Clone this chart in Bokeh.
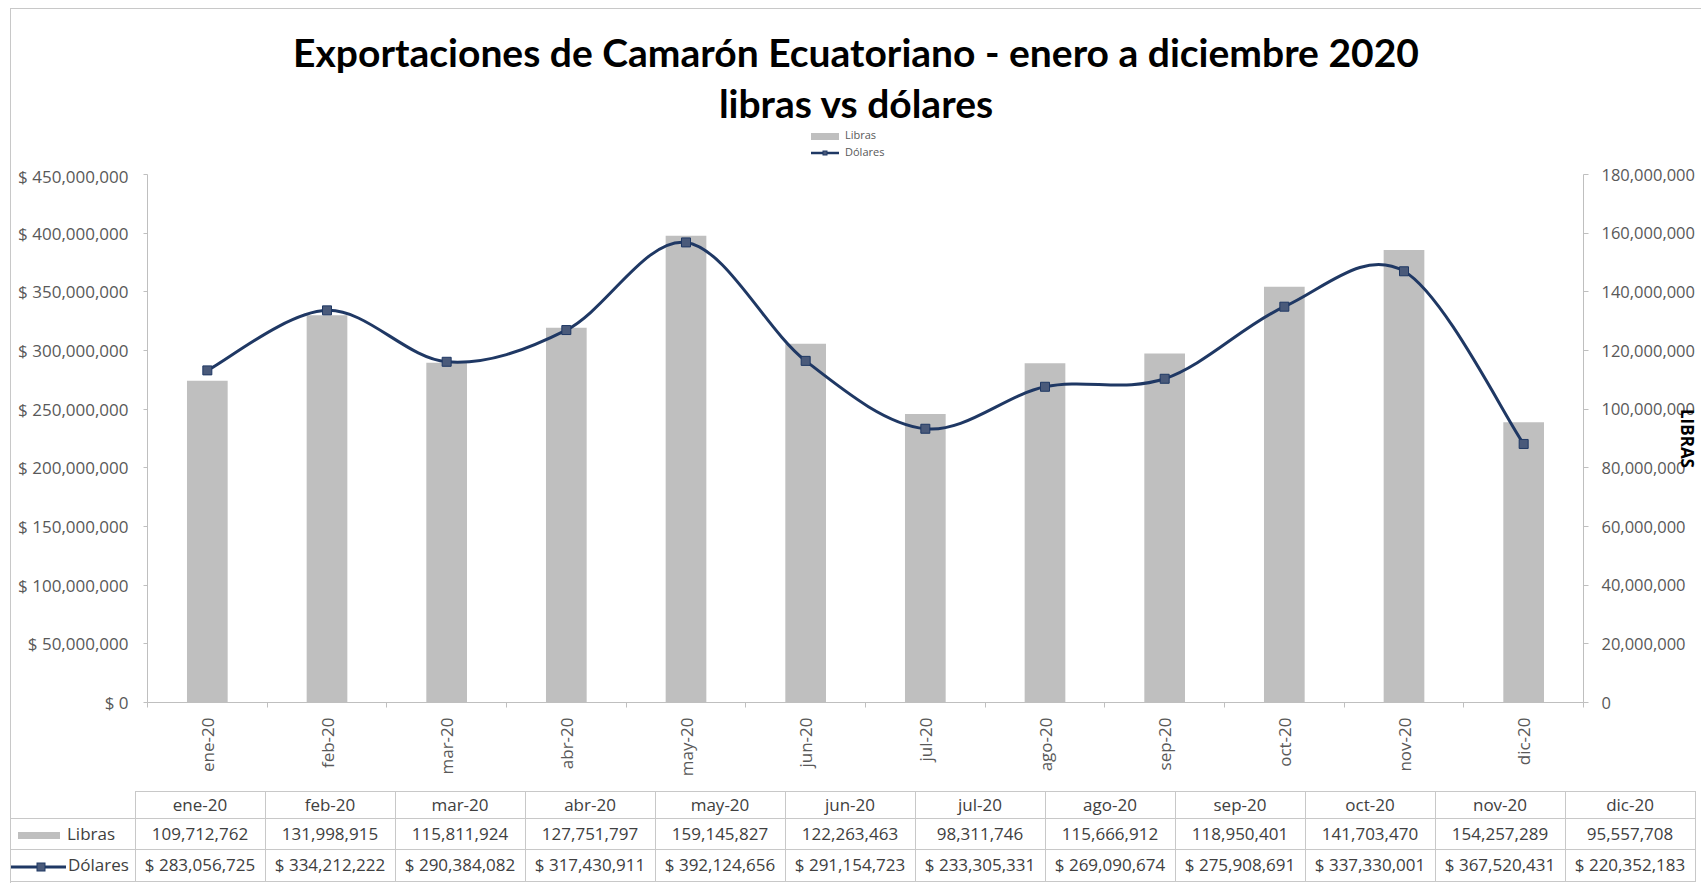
import math
import numpy as np
from bokeh.plotting import figure
from bokeh.models import Range1d, LinearAxis, FixedTicker, ColumnDataSource, Div
from bokeh.layouts import column
from bokeh.embed import file_html
from bokeh.resources import INLINE

# ---------------- data ----------------
months = ["ene-20", "feb-20", "mar-20", "abr-20", "may-20", "jun-20",
          "jul-20", "ago-20", "sep-20", "oct-20", "nov-20", "dic-20"]
libras = [109712762, 131998915, 115811924, 127751797, 159145827, 122263463,
          98311746, 115666912, 118950401, 141703470, 154257289, 95557708]
dolares = [283056725, 334212222, 290384082, 317430911, 392124656, 291154723,
           233305331, 269090674, 275908691, 337330001, 367520431, 220352183]
usd_ticks = [0, 50000000, 100000000, 150000000, 200000000, 250000000,
             300000000, 350000000, 400000000, 450000000]
lb_ticks = [0, 20000000, 40000000, 60000000, 80000000, 100000000,
            120000000, 140000000, 160000000, 180000000]
title_1 = "Exportaciones de Camarón Ecuatoriano - enero a diciembre 2020"
title_2 = "libras vs dólares"
series_names = ["Libras", "Dólares"]
right_axis_name = "LIBRAS"

# ---------------- style ----------------
FONT = "Open Sans"
TITLE_FONT = "Lato"
BAR = "#bfbfbf"
NAVY = "#1f3864"
MARK = "#4a5a7a"
AX = "#bfbfbf"
TXT = "#595959"
TBL_TXT = "#404040"
GRID = "#c8c8c8"
W = 1690
H_TITLE = 155
H_CHART = 624
H_TABLE = 95

n = len(months)
centers = [i + 0.5 for i in range(n)]   # category slot centres on the x scale
src = ColumnDataSource(dict(xc=centers, month=months, libras=libras, dolares=dolares))

# ---------------- title + legend ----------------
leg_bar = (f'<span style="display:inline-block;width:28px;height:7px;background:{BAR};'
           f'margin-right:6px;vertical-align:middle"></span>')
leg_line = (f'<svg width="28" height="10" style="vertical-align:middle;margin-right:6px">'
            f'<line x1="0" y1="5" x2="28" y2="5" stroke="{NAVY}" stroke-width="2.5"/>'
            f'<rect x="12" y="3" width="4" height="4" fill="{MARK}" stroke="{NAVY}" stroke-width="1"/></svg>')
title_div = Div(
    text=(f'<div style="width:{W}px;padding-top:18px;text-align:center;'
          f'font-family:{TITLE_FONT};font-weight:bold;font-size:39px;line-height:51px;'
          f'color:#000;white-space:nowrap">{title_1}<br>{title_2}</div>'
          f'<div style="margin-top:-3px;margin-left:800px;text-align:left;white-space:nowrap;'
          f'font-family:\'{FONT}\';font-size:11px;line-height:17px;color:{TXT}">'
          f'<div style="height:17px">{leg_bar}{series_names[0]}</div>'
          f'<div style="height:17px">{leg_line}{series_names[1]}</div></div>'),
    width=W, height=H_TITLE, margin=(0, 0, 0, 0))

# ---------------- chart ----------------
p = figure(width=W, height=H_CHART, x_range=Range1d(0, n),
           y_range=Range1d(0, usd_ticks[-1]),
           output_backend="svg", toolbar_location=None,
           x_axis_location=None, y_axis_location=None,
           min_border_left=136, min_border_right=116,
           min_border_top=10, min_border_bottom=86, margin=(0, 0, 0, 0))
p.outline_line_color = None
p.grid.visible = False
p.background_fill_color = "white"
p.border_fill_color = "white"
p.extra_y_ranges = {"lb": Range1d(0, lb_ticks[-1])}


def style_axis(ax, size):
    ax.axis_line_color = AX
    ax.major_tick_line_color = AX
    ax.minor_tick_line_color = AX
    ax.major_label_text_font = FONT
    ax.major_label_text_font_size = size
    ax.major_label_text_color = TXT


yl = LinearAxis(ticker=FixedTicker(ticks=usd_ticks),
                major_label_overrides={t: f"$ {t:,}" for t in usd_ticks})
style_axis(yl, "17px")
yl.major_tick_out = 4
yl.major_tick_in = 0
yl.major_label_standoff = 15
yl.minor_tick_line_color = None
p.add_layout(yl, "left")

yr = LinearAxis(y_range_name="lb", ticker=FixedTicker(ticks=lb_ticks),
                major_label_overrides={t: f"{t:,}" for t in lb_ticks},
                axis_label=right_axis_name)
style_axis(yr, "16.5px")
yr.major_tick_out = 5
yr.major_tick_in = 0
yr.major_label_standoff = 13
yr.minor_tick_line_color = None
yr.axis_label_text_font = FONT
yr.axis_label_text_font_style = "bold"
yr.axis_label_text_font_size = "17px"
yr.axis_label_text_color = "black"
yr.axis_label_standoff = -22
p.add_layout(yr, "right")

xb = LinearAxis(ticker=FixedTicker(ticks=centers, minor_ticks=list(range(n + 1))),
                major_label_overrides={c: m for c, m in zip(centers, months)})
style_axis(xb, "17px")
xb.major_tick_out = 0
xb.major_tick_in = 0
xb.minor_tick_out = 5
xb.minor_tick_in = 0
xb.major_label_orientation = math.pi / 2
xb.major_label_standoff = 10
p.add_layout(xb, "below")

# bars (libras on right axis)
bars = p.vbar(x="xc", top="libras", width=0.34, source=src, y_range_name="lb",
              fill_color=BAR, line_color=None)

# smoothed line (dolares) -- Catmull-Rom style bezier control points
xs = np.array(centers, dtype=float)
ys = np.array(dolares, dtype=float)
x0, y0, x1, y1, cx0, cy0, cx1, cy1 = ([] for _ in range(8))
for i in range(n - 1):
    im1 = max(i - 1, 0)
    ip2 = min(i + 2, n - 1)
    x0.append(xs[i]); y0.append(ys[i])
    x1.append(xs[i + 1]); y1.append(ys[i + 1])
    cx0.append(xs[i] + (xs[i + 1] - xs[im1]) / 6)
    cy0.append(ys[i] + (ys[i + 1] - ys[im1]) / 6)
    cx1.append(xs[i + 1] - (xs[ip2] - xs[i]) / 6)
    cy1.append(ys[i + 1] - (ys[ip2] - ys[i]) / 6)
curve = p.bezier(x0=x0, y0=y0, x1=x1, y1=y1, cx0=cx0, cy0=cy0, cx1=cx1, cy1=cy1,
                 line_color=NAVY, line_width=3)
marks = p.scatter(x="xc", y="dolares", source=src, marker="square", size=9,
                  fill_color=MARK, line_color=NAVY, line_width=1)

# ---------------- data table ----------------
B = f"1px solid {GRID}"
cell = "padding:0;text-align:center;vertical-align:middle;white-space:nowrap;"
cols = '<col style="width:124px">' + '<col style="width:130px">' * n
hdr = (f'<td style="{cell}border-right:{B};border-bottom:{B}"></td>'
       + "".join(f'<td style="{cell}border:{B}">{m}</td>' for m in months))
swatch = (f'<span style="display:inline-block;width:42px;height:7px;background:{BAR};'
          f'margin:0 7px 0 7px;vertical-align:middle"></span>')
line_key = (f'<svg width="55" height="10" style="vertical-align:middle;margin-right:2px">'
            f'<line x1="0" y1="5" x2="55" y2="5" stroke="{NAVY}" stroke-width="3"/>'
            f'<rect x="26" y="1" width="8" height="8" fill="{MARK}" stroke="{NAVY}"/></svg>')
row_l = (f'<td style="{cell}text-align:left;border:{B};border-left:none">{swatch}{series_names[0]}</td>'
         + "".join(f'<td style="{cell}border:{B}">{v:,}</td>' for v in libras))
row_d = (f'<td style="{cell}text-align:left;border:{B};border-left:none">{line_key}{series_names[1]}</td>'
         + "".join(f'<td style="{cell}border:{B}">$ {v:,}</td>' for v in dolares))
table_html = (f'<table style="border-collapse:collapse;table-layout:fixed;margin-top:3px;'
              f'font-family:\'{FONT}\';font-size:17px;color:{TBL_TXT};width:1684px">'
              f'<colgroup>{cols}</colgroup>'
              f'<tr style="height:27px">{hdr}</tr>'
              f'<tr style="height:31px">{row_l}</tr>'
              f'<tr style="height:32px">{row_d}</tr></table>')
table_div = Div(text=table_html, width=W, height=H_TABLE, margin=(0, 0, 0, 0))

layout = column(title_div, p, table_div, spacing=0,
                styles={"margin-left": "10px", "margin-top": "8px",
                        "border-left": f"1px solid {GRID}",
                        "border-top": f"1px solid {GRID}"})
open("out.html", "w").write(file_html(layout, INLINE))
